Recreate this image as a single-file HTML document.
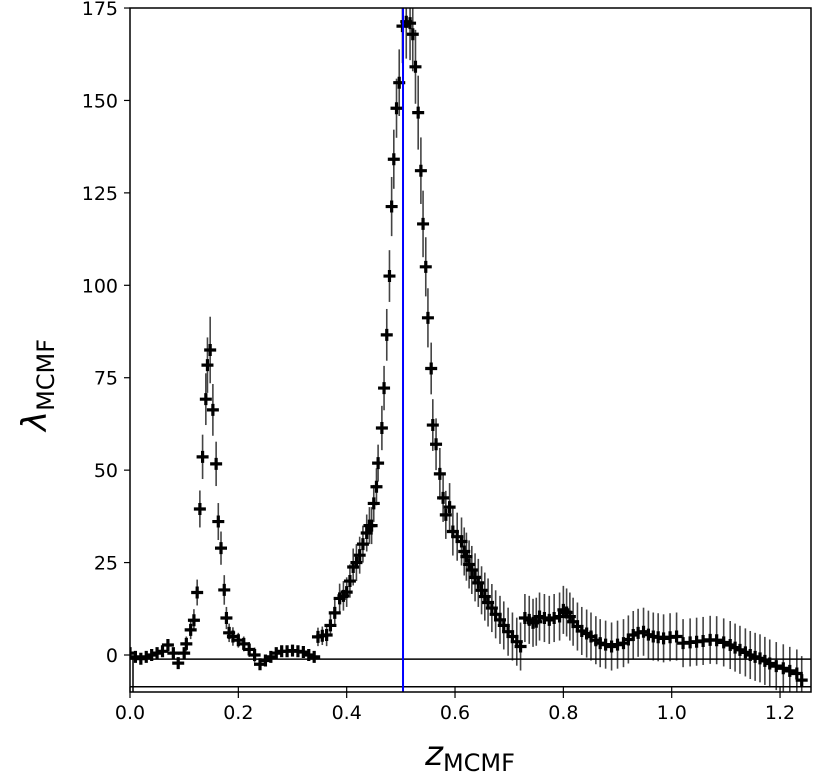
<!DOCTYPE html>
<html><head><meta charset="utf-8"><style>
body{margin:0;background:#fff}
svg{display:block;font-family:"DejaVu Sans","Liberation Sans",sans-serif}
</style></head><body>
<svg id="chart" width="830" height="777" viewBox="0 0 830 777" xmlns="http://www.w3.org/2000/svg">
<g id="errs"></g>
<g id="marks"></g>
<g id="axes"></g>
<text transform="translate(46,385) rotate(-90)" text-anchor="middle" font-size="34"><tspan font-style="italic">λ</tspan><tspan font-size="24" dy="8">MCMF</tspan></text>
<text x="470" y="765" text-anchor="middle" font-size="34"><tspan font-style="italic">z</tspan><tspan font-size="24" dy="6">MCMF</tspan></text>
</svg>
<script>
const zVals=[0.0,0.01,0.02,0.03,0.04,0.05,0.06,0.07,0.08,0.089,0.10,0.104,0.112,0.118,0.124,0.129,0.134,0.140,0.143,0.148,0.153,0.159,0.163,0.168,0.174,0.178,0.183,0.19,0.20,0.21,0.22,0.23,0.24,0.25,0.26,0.27,0.28,0.29,0.30,0.31,0.32,0.33,0.34,0.347,0.355,0.363,0.370,0.378,0.387,0.394,0.40,0.406,0.412,0.418,0.424,0.430,0.437,0.442,0.446,0.450,0.455,0.458,0.465,0.469,0.474,0.479,0.483,0.487,0.492,0.497,0.503,0.510,0.517,0.522,0.527,0.532,0.537,0.541,0.546,0.550,0.556,0.559,0.565,0.572,0.578,0.583,0.590,0.596,0.604,0.612,0.617,0.621,0.626,0.631,0.637,0.643,0.649,0.655,0.661,0.668,0.675,0.683,0.690,0.698,0.706,0.714,0.721,0.729,0.737,0.744,0.750,0.756,0.765,0.774,0.783,0.793,0.800,0.806,0.812,0.818,0.826,0.834,0.843,0.851,0.860,0.868,0.878,0.889,0.900,0.911,0.920,0.929,0.938,0.948,0.957,0.966,0.975,0.985,0.997,1.009,1.021,1.034,1.046,1.058,1.071,1.083,1.096,1.108,1.117,1.126,1.136,1.145,1.154,1.163,1.172,1.181,1.193,1.206,1.218,1.231,1.240,1.249,1.255];
const lamVals=[0.5,-0.5,-1,-0.5,0,0.5,1,2.7,0.5,-2.2,0.5,3,6.8,9.4,16.9,39.5,53.6,69.2,78.4,82.5,66.3,51.7,36.1,28.9,17.6,10,6,5,4,3,1.5,0,-2.5,-1.5,-0.5,0.5,1,1,1.2,1,0.8,0,-0.5,4.9,5.2,5.4,8,11.4,15.3,16,17,20,23.8,25,27,30,33,35,35,41,45.5,51.9,61.4,72.2,86.6,102.5,121.3,134.1,147.9,154.8,170.1,171.3,170.9,167.9,159.1,146.7,131,116.6,105,91.2,77.5,62.2,57,49,42.5,37.9,40,33.4,32,30.7,28,26.6,24.5,23,21,19.5,17.5,15.8,14.2,12.7,11,9.5,8,6.3,5,3.6,2.3,10,9.5,8.7,9,10.4,10,9.5,10,10.4,12.2,11.5,10.4,9,7.7,6.5,5.8,5,4,3.2,2.8,2.3,2.8,3.2,4.2,5.4,6,6.3,5.5,5,4.8,4.5,4.8,5,3.2,3.4,3.6,3.8,4.1,4,3.4,2.7,2,1.4,0.7,0,-0.5,-0.9,-1.6,-2.3,-3,-3.6,-4.3,-5,-6.8];
const errVals=[1,1,1,1,1,1,1.5,1.5,1.5,1.5,1.5,2,2.5,3,3.5,5,6,7,7.5,9,7,6,5,4.5,4,3,2.5,2.5,2,2,2,2,1.5,1.5,1.5,1.5,1.5,1.5,1.5,1.5,1.5,1.5,1.5,2.5,2.5,3,3,3.5,4,4,4,4.5,5,5,5,5,5,5,5,5,5,5,6,6,7,7,8,8,8,9,10,10,10,10,10,10,9,9,8,8,7,7,7,7,6.5,6.5,6.5,6.5,6.5,6.5,6.5,6.5,6.5,6.5,6.5,6.5,6.5,6.5,6.5,6.5,6.5,6.5,6.5,6.5,6.5,6.5,6.5,6.5,6.5,6.5,6.5,6.5,6.5,6.5,6.5,6.5,6.5,6.5,6.5,6.5,6.5,6.5,6.5,6.5,6.5,6.5,6.5,6.5,6.5,6.5,6.5,6.5,6.5,6.5,6.5,6.5,6.5,6.5,6.5,6.5,6.5,6.5,6.5,6.5,6.5,6.5,6.5,6.5,6.5,6.5,6.5,6.5,6.5,6.5,6.5,6.5,6.5,6.5,6.5,6.5,6.5];
const xTicks=[0.0,0.2,0.4,0.6,0.8,1.0,1.2];
const xTickLabels=["0.0","0.2","0.4","0.6","0.8","1.0","1.2"];
const yTicks=[0,25,50,75,100,125,150,175];
const yTickLabels=["0","25","50","75","100","125","150","175"];
const bestZ=[0.504];
const refLines=[-1.1,-8.6];

const L=130,R=811,T=8,B=692;
const X=z=>L+z*541.7;
const Y=v=>655-v*3.697;
const NS="http://www.w3.org/2000/svg";
function mk(tag,parent,attrs){const e=document.createElementNS(NS,tag);for(const k in attrs)e.setAttribute(k,attrs[k]);parent.appendChild(e);return e;}
const errs=document.getElementById('errs'),marks=document.getElementById('marks'),axes=document.getElementById('axes');
const clip=mk('clipPath',document.getElementById('chart'),{id:'pc'});
mk('rect',clip,{x:L,y:T,width:R-L,height:B-T});
errs.setAttribute('clip-path','url(#pc)');marks.setAttribute('clip-path','url(#pc)');
zVals.forEach((z,i)=>{
  const x=X(z),y=Y(lamVals[i]),e=errVals[i]*3.697;
  const l=mk('line',errs,{x1:x,x2:x,y1:y-e,y2:y+e,stroke:'#444','stroke-width':1.6});
  
  
  const p=mk('path',marks,{d:`M${x-6},${y}H${x+6}M${x},${y-6}V${y+6}`,stroke:'#000','stroke-width':3.2});
  
  
});
refLines.forEach(v=>{
  const l=mk('line',axes,{x1:L,x2:R,y1:Y(v),y2:Y(v),stroke:'#000','stroke-width':1.5});
  
  
});
mk('line',axes,{x1:L+3,x2:L+3,y1:Y(-1.1),y2:B,stroke:'#000','stroke-width':1.5});
bestZ.forEach(z=>{
  const l=mk('line',axes,{x1:X(z),x2:X(z),y1:T,y2:B,stroke:'#0000ff','stroke-width':2});
  
  
});
const fr=mk('rect',axes,{x:L,y:T,width:R-L,height:B-T,fill:'none',stroke:'#000','stroke-width':1.5});


xTicks.forEach((t,i)=>{
  mk('line',axes,{x1:X(t),x2:X(t),y1:B,y2:B+6,stroke:'#000','stroke-width':1.2});
  mk('line',axes,{x1:X(t),x2:X(t),y1:Y(-8.6),y2:B,stroke:'#000','stroke-width':1.2});
  const tx=mk('text',axes,{x:X(t),y:B+27,'text-anchor':'middle','font-size':19});
  tx.textContent=xTickLabels[i];
  
  
});
yTicks.forEach((t,i)=>{
  mk('line',axes,{x1:L-6,x2:L,y1:Y(t),y2:Y(t),stroke:'#000','stroke-width':1.2});
  const tx=mk('text',axes,{x:L-12,y:Y(t)+7,'text-anchor':'end','font-size':19});
  tx.textContent=yTickLabels[i];
  
  
});
</script>
</body></html>
